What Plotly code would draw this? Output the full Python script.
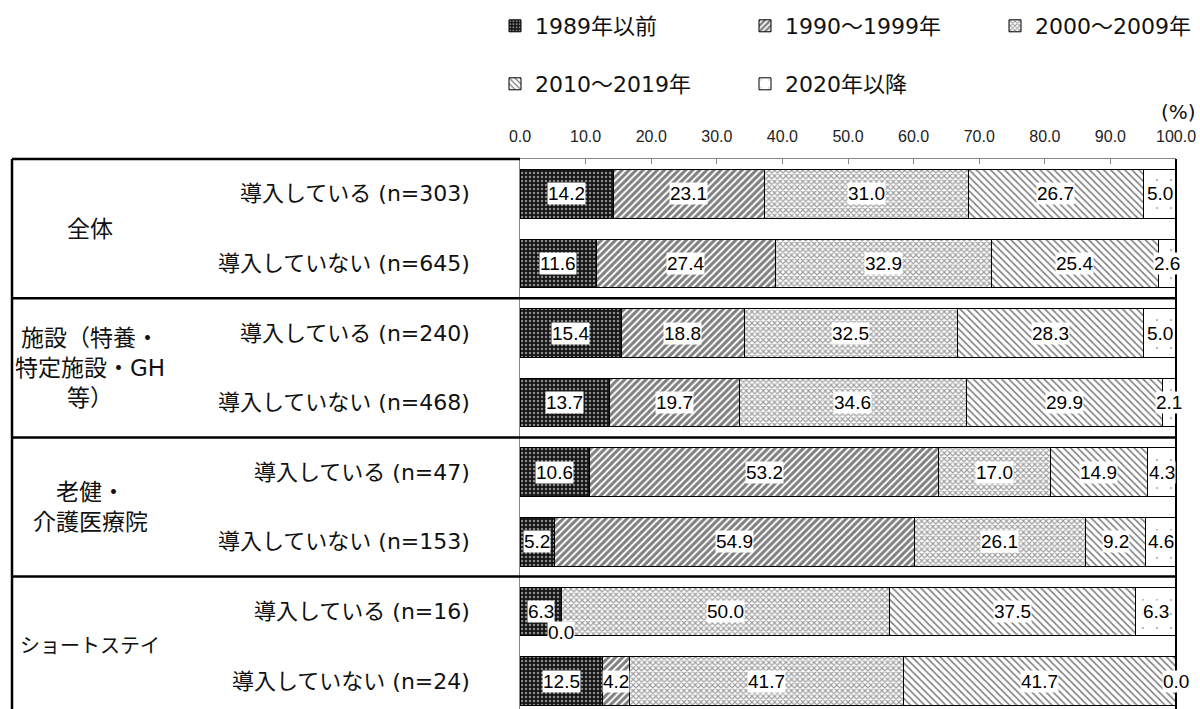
import plotly.graph_objects as go

# ---- data -------------------------------------------------------------
group_labels = ["全体", "施設（特養・<br>特定施設・GH<br>等）", "老健・<br>介護医療院", "ショートステイ"]
row_labels = [
    "導入している (n=303)", "導入していない (n=645)",
    "導入している (n=240)", "導入していない (n=468)",
    "導入している (n=47)", "導入していない (n=153)",
    "導入している (n=16)", "導入していない (n=24)",
]
series_names = ["1989年以前", "1990～1999年", "2000～2009年", "2010～2019年", "2020年以降"]
v_1989 = [14.2, 11.6, 15.4, 13.7, 10.6, 5.2, 6.3, 12.5]
v_1990 = [23.1, 27.4, 18.8, 19.7, 53.2, 54.9, 0.0, 4.2]
v_2000 = [31.0, 32.9, 32.5, 34.6, 17.0, 26.1, 50.0, 41.7]
v_2010 = [26.7, 25.4, 28.3, 29.9, 14.9, 9.2, 37.5, 41.7]
v_2020 = [5.0, 2.6, 5.0, 2.1, 4.3, 4.6, 6.3, 0.0]
tick_vals = [0, 10, 20, 30, 40, 50, 60, 70, 80, 90, 100]

series_values = [v_1989, v_1990, v_2000, v_2010, v_2020]

# ---- geometry ---------------------------------------------------------
W, H = 1200, 709
M_L, M_R, M_T, M_B = 520, 24, 159, 0
PW = W - M_L - M_R
ROW_PX = 69.6
n_rows = len(row_labels)
y_top = -0.5
y_bottom = y_top + (H - M_T - M_B) / ROW_PX
X_MAX = 100


def px_to_paper_x(px):
    return (px - M_L) / PW


def px_to_paper_y(py):
    return (H - M_B - py) / (H - M_T - M_B)


def cat_to_ydomain(c):
    return (y_bottom - c) / (y_bottom - y_top)


JP_FONT = "DejaVu Sans, Noto Sans CJK JP"
NUM_FONT = "Liberation Sans, Arial"

patterns = [
    dict(shape=".", bgcolor="#151515", fgcolor="#ffffff", size=4, solidity=0.3),
    dict(shape="/", bgcolor="#ffffff", fgcolor="#000000", size=5, solidity=0.6),
    dict(shape="x", bgcolor="#ffffff", fgcolor="#3a3a3a", size=4, solidity=0.5),
    dict(shape="\\", bgcolor="#ffffff", fgcolor="#000000", size=5, solidity=0.32),
    dict(shape=".", bgcolor="#ffffff", fgcolor="#555555", size=14, solidity=0.02),
]
legend_ids = ["legend", "legend", "legend", "legend2", "legend2"]

rows = list(range(n_rows))
fig = go.Figure()
for name, vals, pat, lg in zip(series_names, series_values, patterns, legend_ids):
    fig.add_trace(go.Bar(
        y=rows, x=vals, name=name, orientation="h", width=0.7,
        marker=dict(color="white", line=dict(color="black", width=1), pattern=pat),
        legend=lg, hoverinfo="skip",
    ))

annotations = []

# value labels on each segment
for r in rows:
    start = 0.0
    for k, vals in enumerate(series_values):
        v = vals[r]
        yshift = 0
        if v == 0 and k < len(series_values) - 1:
            yshift = -21
        annotations.append(dict(
            x=min(start + v / 2, X_MAX), y=r, xref="x", yref="y", text=f"{v:.1f}",
            showarrow=False, bgcolor="white", borderpad=0, yshift=yshift,
            font=dict(family=NUM_FONT, size=19, color="black"),
        ))
        start += v

# row labels
for r, lab in enumerate(row_labels):
    annotations.append(dict(
        x=px_to_paper_x(472), xref="paper", xanchor="right", y=r, yref="y",
        text=lab, showarrow=False, font=dict(family=JP_FONT, size=22, color="#111"),
    ))

# group labels (the all-kana label is set a little smaller to keep it inside the cell)
for g, lab in enumerate(group_labels):
    size = 20 if g == 3 else 23
    annotations.append(dict(
        x=px_to_paper_x(90), xref="paper", xanchor="center", y=2 * g + 0.5, yref="y",
        text=lab, showarrow=False, align="center",
        font=dict(family=JP_FONT, size=size, color="#111"),
    ))

# unit label
annotations.append(dict(
    x=px_to_paper_x(1198), xref="paper", xanchor="right",
    y=px_to_paper_y(112), yref="paper", yanchor="middle",
    text="(%)", showarrow=False, font=dict(family=JP_FONT, size=20, color="#111"),
))

# table borders
shapes = []
left_x = px_to_paper_x(12)
for b in [1.5, 3.5, 5.5]:
    yy = cat_to_ydomain(b)
    shapes.append(dict(type="line", xref="paper", yref="y domain", x0=left_x, x1=1,
                       y0=yy, y1=yy, line=dict(color="black", width=2.5)))
shapes.append(dict(type="line", xref="paper", yref="y domain", x0=left_x, x1=0,
                   y0=1, y1=1, line=dict(color="black", width=2.5)))
shapes.append(dict(type="line", xref="paper", yref="y domain", x0=left_x, x1=left_x,
                   y0=0, y1=1, line=dict(color="black", width=2.5)))
shapes.append(dict(type="line", xref="paper", yref="y domain", x0=1, x1=1,
                   y0=0, y1=1, line=dict(color="black", width=2)))

legend_common = dict(
    orientation="h", xanchor="left", yanchor="middle", x=px_to_paper_x(495),
    entrywidth=205, entrywidthmode="pixels", bgcolor="rgba(0,0,0,0)",
    font=dict(family=JP_FONT, size=22, color="#111"), itemclick=False,
    itemdoubleclick=False, traceorder="normal",
)

fig.update_layout(
    width=W, height=H, barmode="stack", bargap=0.3,
    margin=dict(l=M_L, r=M_R, t=M_T, b=M_B, autoexpand=False),
    paper_bgcolor="white", plot_bgcolor="white",
    showlegend=True,
    legend=dict(legend_common, y=px_to_paper_y(26)),
    legend2=dict(legend_common, y=px_to_paper_y(84)),
    xaxis=dict(
        side="top", range=[0, X_MAX], tickvals=tick_vals, tickformat=".1f",
        ticks="inside", ticklen=5, tickcolor="#888", showline=True, linecolor="#888",
        linewidth=1, showgrid=False, zeroline=False, ticklabelstandoff=10,
        tickfont=dict(family=NUM_FONT, size=16, color="#222"), fixedrange=True,
    ),
    yaxis=dict(
        range=[y_bottom, y_top], showticklabels=False, showgrid=False, zeroline=False,
        showline=True, linecolor="#888", linewidth=1, ticks="", fixedrange=True,
    ),
    annotations=annotations, shapes=shapes,
)

fig.write_html("out.html")
